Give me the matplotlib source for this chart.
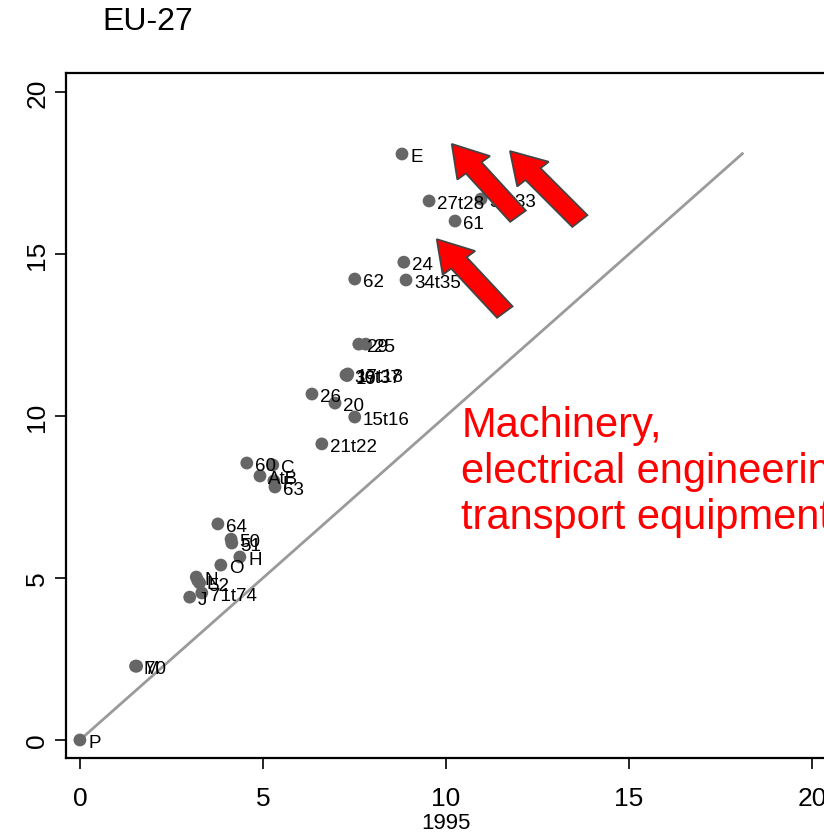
import matplotlib
matplotlib.use("Agg")
import matplotlib.pyplot as plt
from matplotlib.patches import FancyArrow

fonts = ['Liberation Sans', 'DejaVu Sans']

# sector labels and values (x = 1995, y = later year)
sectors = ['P', 'M', '70', 'J', '71t74', 'N', 'L', '52', 'O', 'H', '51', '50', '64',
           '63', 'F', 'AtB', 'C', '60', '21t22', '15t16', '20', '26', '36t37', '17t18', '19',
           '29', '25', '62', '34t35', '24', '61', '30t33', '27t28', 'E']
x1995 = [0.0, 1.52, 1.55, 3.0, 3.33, 3.18, 3.22, 3.27, 3.85, 4.37, 4.15, 4.13, 3.77,
         5.33, 5.30, 4.92, 5.27, 4.56, 6.61, 7.51, 6.97, 6.34, 7.27, 7.32, 7.30,
         7.62, 7.81, 7.51, 8.91, 8.85, 10.25, 10.96, 9.54, 8.80]
ylater = [0.0, 2.28, 2.28, 4.41, 4.54, 5.03, 4.92, 4.85, 5.40, 5.65, 6.08, 6.20, 6.67,
          7.81, 8.00, 8.15, 8.49, 8.55, 9.14, 9.97, 10.40, 10.68, 11.27, 11.30, 11.25,
          12.22, 12.22, 14.23, 14.20, 14.75, 16.02, 16.70, 16.64, 18.09]

diag_end = 18.1

# arrows: (tail x, tail y, head x, head y)
arrows = [(11.61, 13.21, 9.75, 15.46),
          (11.97, 16.17, 10.16, 18.40),
          (13.66, 16.02, 11.75, 18.18)]

fig = plt.figure(figsize=(8.24, 8.37), dpi=100)
xmin, xmax = -0.38, 21.0
ymin, ymax = -0.556, 20.59
ax = fig.add_axes([66/824, 1-759/837, (xmax-xmin)*36.6/824, (759-74)/837])
ax.set_xlim(xmin, xmax)
ax.set_ylim(ymin, ymax)

ax.plot([0, diag_end], [0, diag_end], color='#9a9a9a', lw=2, zorder=1)
ax.scatter(x1995, ylater, s=85, color='#666666', edgecolors='none', zorder=3)
for s, xv, yv in zip(sectors, x1995, ylater):
    ax.annotate(s, (xv, yv), xytext=(6, -2), textcoords='offset points',
                ha='left', va='center', fontsize=13.5, family=fonts, zorder=4)

for tx, ty, hx, hy in arrows:
    ax.add_patch(FancyArrow(tx, ty, hx-tx, hy-ty, width=0.55, head_width=1.15,
                            head_length=0.95, length_includes_head=True,
                            facecolor='#ff0000', edgecolor='#444444', lw=1.3, zorder=5))

ax.text(10.42, 10.35, 'Machinery,\nelectrical engineering,\ntransport equipment',
        color='#ff0000', fontsize=30, family=fonts, ha='left', va='top',
        linespacing=1.2, zorder=6)

ax.set_xticks([0, 5, 10, 15, 20])
ax.set_yticks([0, 5, 10, 15, 20])
ax.set_xticklabels(['0', '5', '10', '15', '20'], family=fonts, fontsize=19)
ax.set_yticklabels(['0', '5', '10', '15', '20'], family=fonts, fontsize=19,
                   rotation=90, va='center')
ax.tick_params(length=8, width=1.2)
ax.tick_params(axis='x', pad=12)
ax.tick_params(axis='y', pad=4)
ax.set_xlabel('1995', family=fonts, fontsize=16)
ax.xaxis.set_label_coords(380 / 782.5, -54 / 685)
for sp in ax.spines.values():
    sp.set_linewidth(1.6)

fig.text(102/824, 1-22/837, 'EU-27', fontsize=23, family=fonts, va='center', ha='left')

fig.savefig('out.png', dpi=100)
